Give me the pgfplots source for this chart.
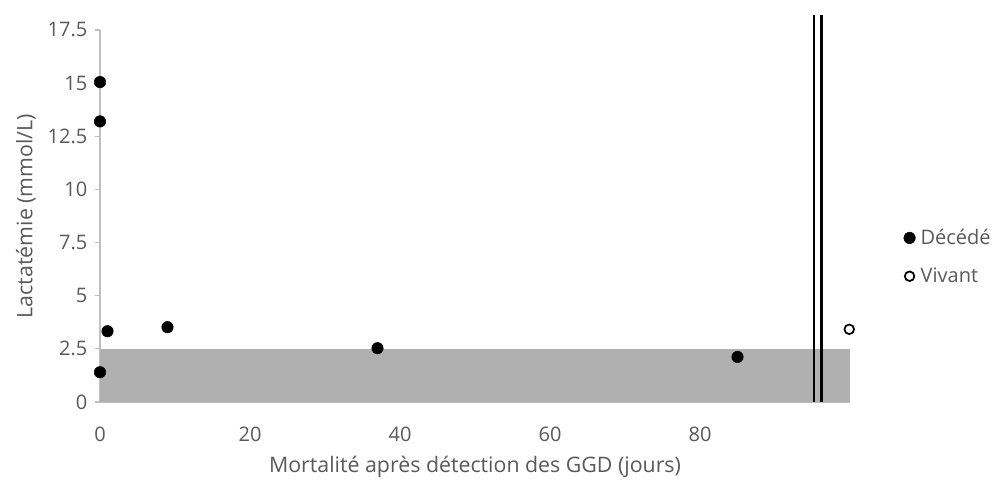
\documentclass[border=0pt]{standalone}
\usepackage{fontspec}
\setmainfont{Open Sans}
\usepackage{pgfplots}
\pgfplotsset{compat=1.18}
\definecolor{txt}{HTML}{595959}
\definecolor{axl}{HTML}{BFBFBF}
\definecolor{band}{HTML}{B0B0B0}
\begin{document}
\begin{tikzpicture}
\path[use as bounding box] (-75pt,-57.75pt) rectangle (669pt,301.5pt);
\begin{axis}[
  at={(0pt,0pt)}, anchor=south west,
  scale only axis, width=562.5pt, height=279pt,
  xmin=0, xmax=100, ymin=0, ymax=17.5,
  clip=false,
  axis x line*=bottom, axis y line*=left,
  axis line style={axl, line width=0.8pt, -},
  xtick={0,20,40,60,80},
  ytick={0,2.5,5,7.5,10,12.5,15,17.5},
  x tick style={draw=none},
  y tick style={axl, line width=0.8pt},
  tick align=outside, major tick length=4pt,
  /pgf/number format/assume math mode=true,
  ticklabel style={font=\fontsize{15}{17}\selectfont, text=txt},
  yticklabel style={xshift=-2pt},
  xticklabel style={yshift=-11pt},
  xlabel={Mortalité après détection des GGD (jours)},
  ylabel={Lactatémie (mmol/L)},
  label style={font=\fontsize{16}{19}\selectfont, text=txt},
  xlabel style={yshift=-4pt},
  ylabel style={yshift=2pt},
  legend style={at={(1.065,0.39)}, anchor=west, draw=none, fill=none,
    font=\fontsize{15}{18}\selectfont, text=txt, row sep=12pt,
    legend cell align=left, nodes={inner xsep=4pt}},
  legend image code/.code={\draw[#1] (0cm,0cm) -- plot coordinates {(0.15cm,0cm)};},
]
\addplot[fill=band, draw=none, forget plot] coordinates {(0,0) (100,0) (100,2.5) (0,2.5)} -- cycle;
\addplot[black, line width=2pt, forget plot] coordinates {(95.2,0) (95.2,18.2)};
\addplot[black, line width=2pt, forget plot] coordinates {(96.2,0) (96.2,18.2)};
\addplot[only marks, mark=*, mark size=4.3pt, black] coordinates {
  (0,15.05) (0,13.2) (1,3.33) (0,1.4) (9,3.52) (37,2.53) (85,2.12)
};
\addlegendentry{Décédé}
\addplot[only marks, mark=o, mark size=3.6pt, black, line width=1.3pt, mark options={fill=white}] coordinates {
  (99.9,3.42)
};
\addlegendentry{Vivant}
\end{axis}
\end{tikzpicture}
\end{document}
